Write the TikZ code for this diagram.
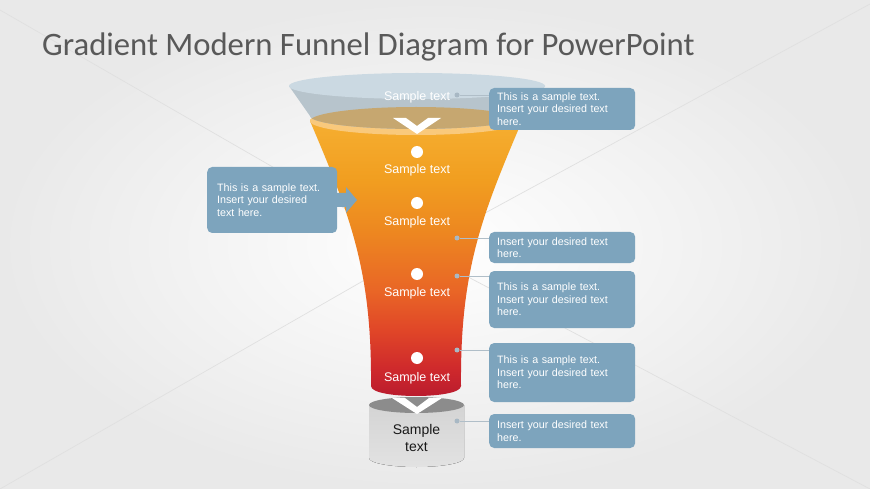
\documentclass[tikz,border=0pt]{standalone}
\usepackage{fontspec}
\setmainfont{Liberation Sans}
\newfontfamily\titlefont{Carlito}
\usetikzlibrary{calc}
\definecolor{boxc}{RGB}{125,164,189}
\definecolor{bgout}{RGB}{233,233,233}
\definecolor{bglinec}{RGB}{224,224,224}
\definecolor{titlec}{RGB}{89,89,89}
\definecolor{graybody}{RGB}{183,196,204}
\definecolor{graytop}{RGB}{203,217,226}
\definecolor{tanc}{RGB}{198,167,112}
\definecolor{rimc}{RGB}{249,201,124}
\definecolor{cyltopc}{RGB}{140,140,140}
\definecolor{cylA}{RGB}{212,212,212}
\definecolor{cylB}{RGB}{226,226,226}
\definecolor{cdotc}{RGB}{168,184,196}
\definecolor{connc}{RGB}{176,190,200}
\definecolor{fa}{RGB}{186,28,46}
\definecolor{fb}{RGB}{206,40,44}
\definecolor{fc}{RGB}{224,70,40}
\definecolor{fd}{RGB}{233,102,38}
\definecolor{fe}{RGB}{237,136,32}
\definecolor{ff}{RGB}{241,158,32}
\definecolor{fg}{RGB}{245,172,46}
\definecolor{fh}{RGB}{247,180,58}
\pgfdeclareverticalshading{funnelshade}{100bp}{%
  color(0bp)=(fa); color(25bp)=(fa); color(29.5bp)=(fb); color(36.4bp)=(fc);
  color(43.3bp)=(fd); color(53.7bp)=(fe); color(62.4bp)=(ff); color(71bp)=(fg);
  color(75bp)=(fh); color(100bp)=(fh)}
\begin{document}
\begin{tikzpicture}[x=1pt,y=-1pt,
  infobox/.style={fill=boxc, rounded corners=5pt, text=white,
    font=\fontsize{10.7}{12.6}\selectfont, align=left, anchor=west,
    inner xsep=8pt, inner ysep=0pt, text width=130pt, minimum width=146pt},
  lbl/.style={text=white, font=\fontsize{12.5}{15}\selectfont, inner sep=0pt},
  wdot/.style={circle, fill=white, inner sep=0pt, minimum size=12pt},
  cdot/.style={circle, fill=cdotc, inner sep=0pt, minimum size=5pt},
  conn/.style={draw=connc, line width=0.8pt},
  bgline/.style={draw=bglinec, line width=0.7pt}]
\useasboundingbox (0,0) rectangle (870,489);
\shade[inner color=white, outer color=bgout] (0,0) rectangle (870,489);
\coordinate (bgc) at (417,250);
\draw[bgline] (0,10) -- (bgc) -- (870,4);
\draw[bgline] (0,489) -- (bgc) -- (870,489);

% title
\node[anchor=base west, font=\titlefont\fontsize{32.7}{38}\selectfont, text=titlec, inner sep=0pt] (title) at (42,56) {Gradient Modern Funnel Diagram for PowerPoint};

% cylinder
\fill[top color=cylA, bottom color=cylB] (369,405) -- (369,458) arc[start angle=180,end angle=360,x radius=47.5pt,y radius=9pt] -- (464,405) -- cycle;
\fill[cyltopc] (416.5,405) ellipse[x radius=47.5pt, y radius=8pt];

% orange funnel body
\shade[shading=funnelshade] (310,121) .. controls (350,215) and (372,270) .. (371,386)
  .. controls (371,393) and (395,396) .. (416,396)
  .. controls (437,396) and (461,393) .. (461,386)
  .. controls (460,270) and (482,215) .. (522,121)
  arc[start angle=0,end angle=180,x radius=106pt,y radius=14pt] -- cycle;
\fill[rimc] (416,121) ellipse[x radius=106pt, y radius=14pt];

% gray top funnel
\fill[graybody] (289,86) -- (310,116) arc[start angle=180,end angle=360,x radius=106pt,y radius=13pt] -- (545,86) -- cycle;
\begin{scope}
  \clip (289,86) -- (310,116) arc[start angle=180,end angle=360,x radius=106pt,y radius=13pt] -- (545,86) -- cycle;
  \fill[tanc] (416,121) ellipse[x radius=106pt, y radius=14pt];
\end{scope}
\fill[graytop] (417,86) ellipse[x radius=128pt, y radius=13pt];

% chevrons
\fill[white] (393,118) -- (417,134) -- (441,118) -- (428,118) -- (417,126) -- (406,118) -- cycle;
\fill[white] (392,398) -- (417,414) -- (442,398) -- (429,398) -- (417,407) -- (405,398) -- cycle;

% dots and labels
\node[wdot] (d1) at (417,152) {};
\node[wdot] (d2) at (417,203) {};
\node[wdot] (d3) at (417,274) {};
\node[wdot] (d4) at (417,358) {};
\node[lbl] (l0) at (417,97) {Sample text};
\node[lbl] (l1) at (417,170) {Sample text};
\node[lbl] (l2) at (417,222) {Sample text};
\node[lbl] (l3) at (417,293) {Sample text};
\node[lbl] (l4) at (417,378) {Sample text};
\node[font=\fontsize{14}{17}\selectfont, text=black!90, align=center, inner sep=0pt] (ct) at (416.5,438) {Sample\\text};

% info boxes
\node[infobox, minimum height=42pt] (b1) at (489,109) {This is a sample text.\\Insert your desired text\\here.};
\node[infobox, minimum height=31pt] (b3) at (489,247.5) {Insert your desired text\\here.};
\node[infobox, minimum height=57pt] (b4) at (489,299.5) {This is a sample text.\\Insert your desired text\\here.};
\node[infobox, minimum height=59pt] (b5) at (489,372.5) {This is a sample text.\\Insert your desired text\\here.};
\node[infobox, minimum height=34pt] (b6) at (489,431) {Insert your desired text\\here.};
\node[infobox, inner xsep=10pt, text width=110pt, minimum width=130pt, minimum height=66pt] (b2) at (207,200) {This is a sample text.\\Insert your desired\\text here.};
\fill[boxc] (330,193) -- (346,193) -- (346,187) -- (357,200) -- (346,213) -- (346,207) -- (330,207) -- cycle;

% connectors
\node[cdot] (c1) at (457,95) {};
\node[cdot] (c3) at (457,238) {};
\node[cdot] (c4) at (457,276) {};
\node[cdot] (c5) at (457,350) {};
\node[cdot] (c6) at (457,421) {};
\draw[conn] (c1) -- (c1 -| b1.west);
\draw[conn] (c3) -- (c3 -| b3.west);
\draw[conn] (c4) -- (c4 -| b4.west);
\draw[conn] (c5) -- (c5 -| b5.west);
\draw[conn] (c6) -- (c6 -| b6.west);
\end{tikzpicture}
\end{document}
